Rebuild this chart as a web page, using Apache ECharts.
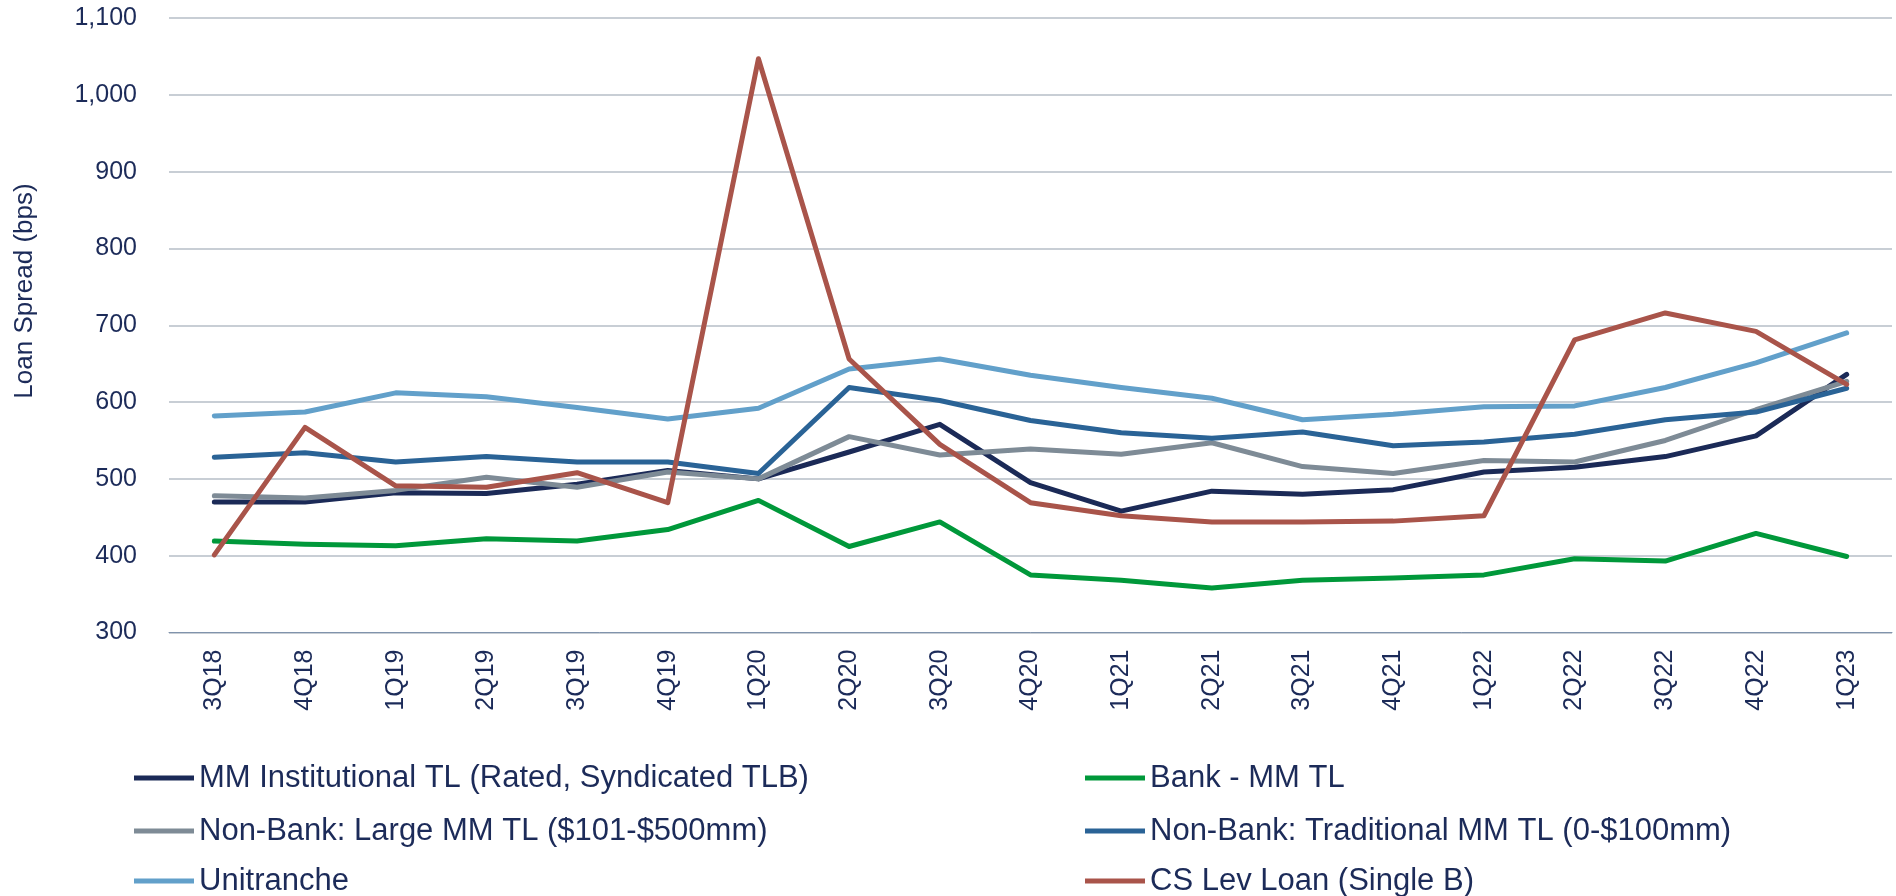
<!DOCTYPE html>
<html>
<head>
<meta charset="utf-8">
<script src="https://cdn.jsdelivr.net/npm/echarts@6/dist/echarts.min.js"></script>
<style>
  html, body { margin: 0; padding: 0; background: #ffffff; }
  #chart { width: 1896px; height: 896px; }
</style>
</head>
<body>
<div id="chart"></div>
<script>
// ---- Data ----
var categories = ['3Q18','4Q18','1Q19','2Q19','3Q19','4Q19','1Q20','2Q20','3Q20','4Q20','1Q21','2Q21','3Q21','4Q21','1Q22','2Q22','3Q22','4Q22','1Q23'];

var mmInstitutional = [470, 470, 482, 481, 493, 511, 500, 535, 571, 495, 458, 484, 480, 486, 509, 515, 529, 556, 636];
var bankMM          = [419, 415, 413, 422, 419, 434, 472, 412, 444, 375, 368, 358, 368, 371, 375, 396, 393, 429, 399];
var nonBankLarge    = [478, 475, 485, 502, 489, 509, 500, 555, 531, 539, 532, 547, 516, 507, 524, 522, 550, 590, 627];
var nonBankTrad     = [528, 534, 522, 529, 522, 522, 507, 619, 602, 576, 560, 553, 561, 543, 548, 558, 577, 587, 618];
var unitranche      = [582, 587, 612, 607, 593, 578, 592, 643, 656, 635, 619, 605, 577, 584, 594, 595, 619, 651, 690];
var csLevLoan       = [401, 567, 491, 489, 508, 469, 1047, 656, 545, 469, 452, 444, 444, 445, 452, 681, 716, 692, 623];

var seriesNames = [
  'MM Institutional TL (Rated, Syndicated TLB)',
  'Bank - MM TL',
  'Non-Bank: Large MM TL ($101-$500mm)',
  'Non-Bank: Traditional MM TL (0-$100mm)',
  'Unitranche',
  'CS Lev Loan (Single B)'
];
var seriesData = [mmInstitutional, bankMM, nonBankLarge, nonBankTrad, unitranche, csLevLoan];

var yTicks = { min: 300, max: 1100, interval: 100 };

// ---- Styles ----
var colors = ['#1B2A57', '#00983A', '#7E8B96', '#2A6396', '#62A0CA', '#A9544A'];
var textColor = '#1C2B59';
var fontFamily = '"Liberation Sans", Arial, sans-serif';

var chart = echarts.init(document.getElementById('chart'), null, { renderer: 'canvas' });

var series = seriesData.map(function (d, i) {
  return {
    name: seriesNames[i],
    type: 'line',
    data: d,
    symbol: 'none',
    showSymbol: false,
    color: colors[i],
    lineStyle: { width: 5, color: colors[i], cap: 'round', join: 'round' },
    z: 2 + i
  };
});

// legend positions (two columns, three rows)
var legendPos = [
  { left: 134, top: 761 }, { left: 1085, top: 761 },
  { left: 134, top: 814 }, { left: 1085, top: 814 },
  { left: 134, top: 864 }, { left: 1085, top: 864 }
];
var legends = seriesNames.map(function (n, i) {
  return {
    data: [n],
    left: legendPos[i].left,
    top: legendPos[i].top,
    padding: 0,
    icon: 'rect',
    itemWidth: 60,
    itemHeight: 5,
    itemGap: 0,
    selectedMode: false,
    textStyle: { fontSize: 31, color: textColor, fontFamily: fontFamily, lineHeight: 34, padding: [0, 0, 0, 0] }
  };
});

var option = {
  animation: false,
  backgroundColor: '#ffffff',
  grid: { left: 169, right: 4, top: 18, bottom: 263.5, containLabel: false },
  legend: legends,
  xAxis: {
    type: 'category',
    data: categories,
    boundaryGap: true,
    axisLine: { show: true, lineStyle: { color: '#8093AC', width: 1 } },
    axisTick: { show: false },
    axisLabel: {
      rotate: 90,
      margin: 17,
      fontSize: 25,
      color: textColor,
      fontFamily: fontFamily,
      interval: 0
    },
    splitLine: { show: false }
  },
  yAxis: {
    type: 'value',
    min: yTicks.min,
    max: yTicks.max,
    interval: yTicks.interval,
    axisLine: { show: false },
    axisTick: { show: false },
    axisLabel: {
      margin: 32,
      fontSize: 25,
      color: textColor,
      fontFamily: fontFamily,
      formatter: function (v) { return v.toLocaleString('en-US'); }
    },
    splitLine: { show: true, lineStyle: { color: '#B6BEC7', width: 1.5 } }
  },
  graphic: [{
    type: 'text',
    x: 25,
    y: 291,
    rotation: Math.PI / 2,
    style: {
      text: 'Loan Spread (bps)',
      fill: textColor,
      font: '26px "Liberation Sans", Arial, sans-serif',
      align: 'center',
      verticalAlign: 'middle'
    }
  }],
  series: series
};

chart.setOption(option);
</script>
</body>
</html>
